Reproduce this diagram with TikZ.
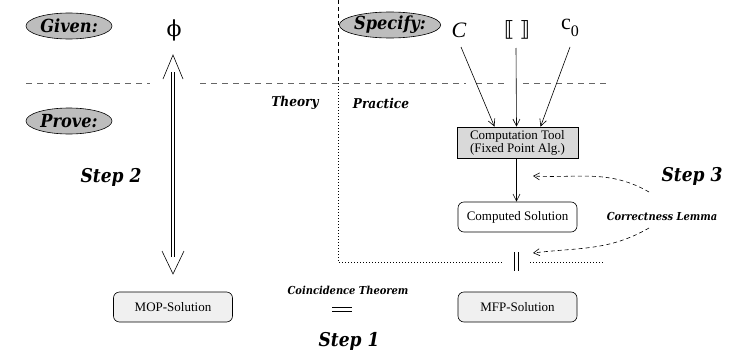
\documentclass[tikz,border=0pt]{standalone}
\usepackage{fontspec}
\setmainfont{Liberation Serif}
\newfontfamily\labfont{DejaVu Serif Condensed}
\newfontfamily\symfont{DejaVu Sans}
\newfontfamily\phifont{DejaVu Serif}
\usetikzlibrary{arrows.meta,shapes.geometric}
\begin{document}
\begin{tikzpicture}[x=1pt,y=-1pt,line width=0.6pt,
  oval/.style={ellipse,draw,fill=gray!52,minimum width=86pt,minimum height=26pt,inner sep=0pt,
    font=\labfont\bfseries\itshape\fontsize{18}{21}\selectfont},
  steplab/.style={font=\labfont\bfseries\itshape\fontsize{19}{22}\selectfont},
  smalllab/.style={font=\labfont\bfseries\itshape\fontsize{11}{13}\selectfont},
  arealab/.style={font=\labfont\bfseries\itshape\fontsize{13.5}{16}\selectfont},
  solbox/.style={draw,rounded corners=6pt,minimum width=119pt,minimum height=30pt,inner sep=0pt,
    font=\fontsize{13}{15}\selectfont},
  toolbox/.style={draw,fill=gray!30,minimum width=121pt,minimum height=31pt,inner sep=0pt,
    align=left,font=\fontsize{13}{13}\selectfont},
  arr/.style={-{Straight Barb[length=7pt,width=7pt]}},
  sep/.style={draw=black!60,dash pattern=on 6pt off 5pt},
  dcurve/.style={dash pattern=on 4pt off 3pt,-{Straight Barb[length=6pt,width=7pt]}},
  dots/.style={dash pattern=on 0.8pt off 2.2pt}]
\useasboundingbox (0,0) rectangle (736,356);

% separators
\coordinate (hl1) at (26,83);
\coordinate (hl2) at (150,83);
\coordinate (hl3) at (200,83);
\coordinate (hl4) at (466,83);
\coordinate (hl5) at (476,83);
\coordinate (hl6) at (507,83);
\coordinate (hl7) at (523,83);
\coordinate (hl8) at (606,83);
\draw[sep] (hl1) -- (hl2);
\draw[sep] (hl3) -- (hl4);
\draw[sep] (hl5) -- (hl6);
\draw[sep] (hl7) -- (hl8);
\coordinate (vt) at (338,0);
\coordinate (vm) at (338,83);
\coordinate (vb) at (338,262);
\coordinate (dl) at (503,262);
\coordinate (dr1) at (530,262);
\coordinate (dr2) at (604,262);
\draw[dash pattern=on 4pt off 3pt] (vt) -- (vm);
\draw[dots] (vm) -- (vb) -- (dl);
\draw[dots] (dr1) -- (dr2);

% ovals
\node[oval] (given) at (69,26) {Given:};
\node[oval] (prove) at (69,121) {Prove:};
\node[oval] (specify) at (390,25) {Specify:};

% given / specify items
\node[font=\phifont\fontsize{22}{26}\selectfont] (phi) at (174,30) {ϕ};
\node[font=\fontsize{22}{26}\selectfont\itshape] (Cn) at (459,30) {C};
\node[font=\symfont\fontsize{21}{24}\selectfont] (sem) at (517,30) {⟦\hspace{5pt}⟧};
\node[font=\fontsize{22}{26}\selectfont] (c0) at (570,28) {c\raisebox{-7pt}{\fontsize{16}{16}\selectfont 0}};

% area labels
\node[arealab] (theory) at (295,103) {Theory};
\node[arealab] (practice) at (381,103) {Practice};

% boxes
\node[toolbox] (tool) at (517.5,142.5) {Computation Tool\\(Fixed Point Alg.)};
\node[solbox] (comp) at (517.5,217) {Computed Solution};
\node[solbox,fill=gray!12] (mfp) at (517.5,307) {MFP-Solution};
\node[solbox,fill=gray!12] (mop) at (173,307) {MOP-Solution};

% arrows into tool
\coordinate (aC) at (461,47);
\coordinate (aS) at (516,48);
\coordinate (aK) at (570,47);
\draw[arr] (aC) -- ([xshift=-23pt]tool.north);
\draw[arr] (aS) -- ([xshift=-1pt]tool.north);
\draw[arr] (aK) -- ([xshift=23pt]tool.north);
\draw[arr] ([xshift=-1pt]tool.south) -- ([xshift=-1pt]comp.north);

% double arrow step 2
\coordinate (upTip) at (173,55);
\coordinate (dnTip) at (173,274);
\coordinate (upBase) at (173,72);
\coordinate (dnBase) at (173,257);
\coordinate (upL) at (163,79);
\coordinate (upR) at (183,79);
\coordinate (dnL) at (162,251);
\coordinate (dnR) at (184,251);
\draw[double distance=2.2pt,line width=0.6pt] (upBase) -- (dnBase);
\draw (upL) -- (upTip) -- (upR);
\draw (dnL) -- (dnTip) -- (dnR);

% equality comp = mfp
\coordinate (eq1a) at (514.5,252);
\coordinate (eq1b) at (514.5,271);
\coordinate (eq2a) at (518.5,252);
\coordinate (eq2b) at (518.5,271);
\draw (eq1a) -- (eq1b);
\draw (eq2a) -- (eq2b);

% coincidence =
\node[smalllab] (coin) at (348,290) {Coincidence Theorem};
\coordinate (e1a) at (332,307.5);
\coordinate (e1b) at (352,307.5);
\coordinate (e2a) at (332,311.5);
\coordinate (e2b) at (352,311.5);
\draw (e1a) -- (e1b);
\draw (e2a) -- (e2b);

% steps
\node[steplab] (s1) at (349,341) {Step 1};
\node[steplab] (s2) at (111,177) {Step 2};
\node[steplab] (s3) at (692,176) {Step 3};

% correctness lemma
\node[smalllab] (lemma) at (662,216) {Correctness Lemma};
\coordinate (ls1) at (649,192);
\coordinate (t1) at (533,176);
\coordinate (ls2) at (649,228);
\coordinate (t2) at (533,253);
\draw[dcurve] (ls1) to[out=150,in=-3] (t1);
\draw[dcurve] (ls2) to[out=210,in=7] (t2);
\end{tikzpicture}
\end{document}
